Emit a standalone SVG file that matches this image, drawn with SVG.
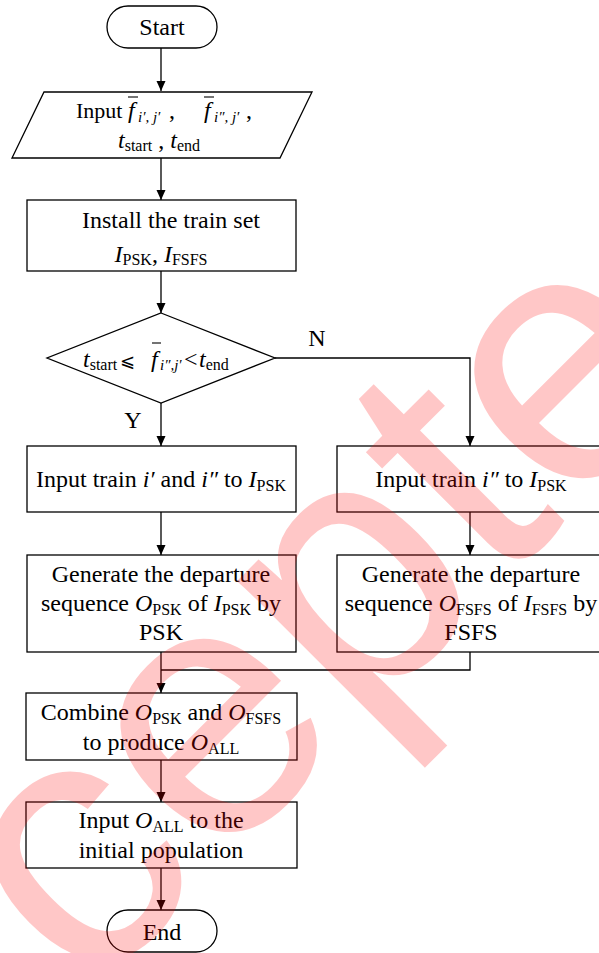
<svg xmlns="http://www.w3.org/2000/svg" width="599" height="953" viewBox="0 0 599 953">
<defs>
<marker id="ah" markerUnits="userSpaceOnUse" markerWidth="12" markerHeight="12" viewBox="0 0 12 12" refX="10" refY="6" orient="auto">
<path d="M0,1.5 L10,6 L0,10.5 Z" fill="#000"/>
</marker>
<style>
.box{fill:#fff;stroke:#000;stroke-width:1.3}
.ln{fill:none;stroke:#000;stroke-width:1.3}
.ar{fill:none;stroke:#000;stroke-width:1.3;marker-end:url(#ah)}
.t{font-family:"Liberation Serif","Times New Roman","DejaVu Serif",serif;font-size:24px;fill:#000}
.m{text-anchor:middle}
.i{font-style:italic}
.s{font-size:16px}
.ss{font-size:15px;font-style:italic}
.ob{stroke:#000;stroke-width:1.1}
.wm{font-family:"Liberation Sans",Arial,sans-serif;font-size:360px;fill:#ff0000;fill-opacity:0.22}
</style>
</defs>
<rect width="599" height="953" fill="#fff"/>
<g id="connectors">
<line class="ar" x1="161" y1="48" x2="161" y2="91"/>
<line class="ar" x1="161" y1="158" x2="161" y2="200"/>
<line class="ar" x1="161" y1="271" x2="161" y2="313"/>
<line class="ar" x1="161" y1="403" x2="161" y2="446"/>
<polyline class="ar" points="275,358 470,358 470,446"/>
<line class="ar" x1="161" y1="512" x2="161" y2="555"/>
<line class="ar" x1="470" y1="512" x2="470" y2="555"/>
<polyline class="ln" points="470,652 470,670 161,670"/>
<line class="ar" x1="161" y1="652" x2="161" y2="693"/>
<line class="ar" x1="161" y1="760" x2="161" y2="802"/>
<line class="ar" x1="161" y1="868" x2="161" y2="910"/>
<text class="t m" x="317" y="346">N</text>
<text class="t m" x="133" y="428">Y</text>
</g>
<g id="start">
<rect class="box" x="107" y="6" width="110" height="42" rx="21"/>
<text class="t m" x="162" y="35">Start</text>
</g>
<g id="input">
<polygon class="box" points="44,92 312,92 280,158 12,158"/>
<text class="t" y="118"><tspan x="76" font-size="22">Input</tspan><tspan class="i" x="128">f</tspan><tspan class="ss" x="138" dy="4">i′, j′</tspan><tspan x="169" dy="-4">,</tspan><tspan class="i" x="204">f</tspan><tspan class="ss" x="214" dy="4">i″, j′</tspan><tspan x="246" dy="-4">,</tspan></text>
<line class="ob" x1="128" y1="97" x2="138" y2="97"/>
<line class="ob" x1="204" y1="97" x2="214" y2="97"/>
<text class="t" y="148"><tspan class="i" x="118">t</tspan><tspan class="s" dy="3">start</tspan><tspan dy="-3"> , </tspan><tspan class="i">t</tspan><tspan class="s" dy="3">end</tspan></text>
</g>
<g id="install">
<rect class="box" x="27" y="200" width="269" height="71"/>
<text class="t m" x="171" y="228">Install the train set</text>
<text class="t m" x="161" y="262"><tspan class="i">I</tspan><tspan class="s" dy="3">PSK</tspan><tspan dy="-3">, </tspan><tspan class="i">I</tspan><tspan class="s" dy="3">FSFS</tspan></text>
</g>
<g id="decision">
<polygon class="box" points="161,313 275,358 161,403 47,358"/>
<text class="t" y="367"><tspan class="i" x="83">t</tspan><tspan class="s" dy="3">start</tspan><tspan dy="-3" x="120" font-family="DejaVu Serif" font-size="18">⩽</tspan><tspan class="i" x="151">f</tspan><tspan class="ss" x="160" dy="3">i″,j′</tspan><tspan x="184" dy="-3">&lt;</tspan><tspan class="i" x="199">t</tspan><tspan class="s" dy="3">end</tspan></text>
<line class="ob" x1="152" y1="343" x2="161" y2="343"/>
</g>
<g id="psk-input">
<rect class="box" x="27" y="446" width="269" height="66"/>
<text class="t m" x="161" y="487">Input train <tspan class="i">i′</tspan> and <tspan class="i">i″</tspan> to <tspan class="i">I</tspan><tspan class="s" dy="4">PSK</tspan></text>
</g>
<g id="fsfs-input">
<rect class="box" x="337" y="446" width="266" height="66"/>
<text class="t m" x="471" y="487">Input train <tspan class="i">i″</tspan> to <tspan class="i">I</tspan><tspan class="s" dy="4">PSK</tspan></text>
</g>
<g id="psk-gen">
<rect class="box" x="27" y="555" width="269" height="97"/>
<text class="t m" x="161" y="582">Generate the departure</text>
<text class="t m" x="161" y="611">sequence <tspan class="i">O</tspan><tspan class="s" dy="4">PSK</tspan><tspan dy="-4"> of </tspan><tspan class="i">I</tspan><tspan class="s" dy="4">PSK</tspan><tspan dy="-4"> by</tspan></text>
<text class="t m" x="161" y="640">PSK</text>
</g>
<g id="fsfs-gen">
<rect class="box" x="337" y="555" width="266" height="97"/>
<text class="t m" x="471" y="582">Generate the departure</text>
<text class="t m" x="471" y="611">sequence <tspan class="i">O</tspan><tspan class="s" dy="4">FSFS</tspan><tspan dy="-4"> of </tspan><tspan class="i">I</tspan><tspan class="s" dy="4">FSFS</tspan><tspan dy="-4"> by</tspan></text>
<text class="t m" x="471" y="640">FSFS</text>
</g>
<g id="combine">
<rect class="box" x="26" y="693" width="271" height="67"/>
<text class="t m" x="161" y="720">Combine <tspan class="i">O</tspan><tspan class="s" dy="4">PSK</tspan><tspan dy="-4"> and </tspan><tspan class="i">O</tspan><tspan class="s" dy="4">FSFS</tspan></text>
<text class="t m" x="161" y="750">to produce <tspan class="i">O</tspan><tspan class="s" dy="4">ALL</tspan></text>
</g>
<g id="population">
<rect class="box" x="26" y="802" width="271" height="66"/>
<text class="t m" x="161" y="828">Input <tspan class="i">O</tspan><tspan class="s" dy="4">ALL</tspan><tspan dy="-4"> to the</tspan></text>
<text class="t m" x="161" y="858">initial population</text>
</g>
<g id="end">
<rect class="box" x="107" y="910" width="110" height="42" rx="21"/>
<text class="t m" x="162" y="940">End</text>
</g>
<text class="wm" transform="translate(-211,1298) rotate(-45)">Accepted</text>
</svg>
